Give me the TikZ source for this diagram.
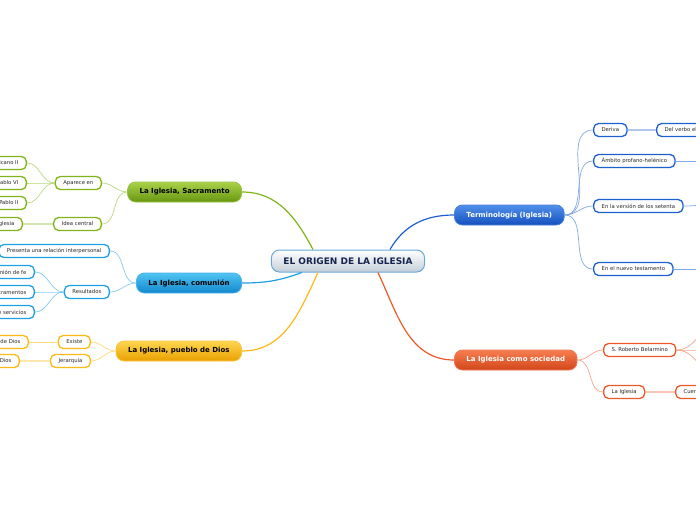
\documentclass[tikz,border=0pt]{standalone}
\usepackage{fontspec}
\setmainfont{DejaVu Sans}
\usetikzlibrary{positioning}
\definecolor{rootline}{RGB}{106,168,220}
\definecolor{rootlow}{RGB}{196,206,216}
\definecolor{rootink}{RGB}{22,36,80}
\definecolor{greenmain}{RGB}{128,180,24}
\definecolor{greentop}{RGB}{170,210,74}
\definecolor{greenlow}{RGB}{104,150,16}
\definecolor{cyanmain}{RGB}{30,160,230}
\definecolor{cyantop}{RGB}{80,196,242}
\definecolor{cyanlow}{RGB}{18,136,204}
\definecolor{goldmain}{RGB}{255,184,20}
\definecolor{goldtop}{RGB}{255,214,80}
\definecolor{goldlow}{RGB}{232,160,0}
\definecolor{navymain}{RGB}{30,96,210}
\definecolor{navytop}{RGB}{80,144,234}
\definecolor{navylow}{RGB}{20,80,190}
\definecolor{rustmain}{RGB}{236,88,40}
\definecolor{rusttop}{RGB}{246,126,80}
\definecolor{rustlow}{RGB}{210,70,26}
\definecolor{textgray}{RGB}{40,40,40}

\begin{document}
\begin{tikzpicture}[
    x=1pt, y=-1pt,
    font=\fontsize{5.3}{6}\selectfont,
    root/.style={
      rectangle,
      rounded corners=8pt,
      draw=rootline,
      line width=1pt,
      top color=white,
      bottom color=rootlow,
      text=rootink,
      minimum height=22pt,
      inner xsep=12pt,
      font=\bfseries\fontsize{9}{10}\selectfont
    },
    topic/.style={
      rectangle,
      rounded corners=8pt,
      line width=0.8pt,
      minimum height=20pt,
      inner xsep=12pt,
      font=\bfseries\fontsize{7}{8}\selectfont
    },
    sacra/.style={topic, draw=greenmain!80, top color=greentop, bottom color=greenlow, text=black},
    comun/.style={topic, draw=cyanmain!80, top color=cyantop, bottom color=cyanlow, text=black},
    pueblo/.style={topic, draw=goldmain!80, top color=goldtop, bottom color=goldlow, text=black},
    termino/.style={topic, draw=navymain!80, top color=navytop, bottom color=navylow, text=white},
    socied/.style={topic, draw=rustmain!80, top color=rusttop, bottom color=rustlow, text=white},
    sub/.style={
      rectangle,
      rounded corners=5pt,
      fill=white,
      line width=1.3pt,
      minimum height=13pt,
      inner xsep=8pt,
      inner ysep=0pt,
      text=textgray
    },
    gsub/.style={sub, draw=greenmain},
    csub/.style={sub, draw=cyanmain},
    osub/.style={sub, draw=goldmain},
    nsub/.style={sub, draw=navymain},
    rsub/.style={sub, draw=rustmain},
    link/.style={line width=1.2pt},
    twig/.style={line width=0.7pt},
    bond/.style={line width=1.8pt}
]
\useasboundingbox (0,0) rectangle (696,520);
\clip (0,0) rectangle (696,520);

% centre and main topics
\node[root] (root) at (348,261) {EL ORIGEN DE LA IGLESIA};
\node[sacra, anchor=east] (sac) at (242,192) {La Iglesia, Sacramento};
\node[comun, anchor=east] (com) at (242,283) {La Iglesia, comunión};
\node[pueblo, anchor=east] (pue) at (242,351) {La Iglesia, pueblo de Dios};
\node[termino, anchor=west] (ter) at (454,215) {Terminología (Iglesia)};
\node[socied, anchor=west] (soc) at (454,360) {La Iglesia como sociedad};

% Sacramento
\node[gsub, anchor=east] (apa) at (102,183) {Aparece en};
\node[gsub, anchor=east] (ide) at (102,224) {Idea central};
\node[gsub, anchor=east] (vat) at (27,163) {Concilio Vaticano II};
\node[gsub, anchor=east] (pab) at (27,183) {Papa Pablo VI};
\node[gsub, anchor=east] (jpa) at (27,203) {Juan Pablo II};
\node[gsub, anchor=east] (mis) at (23,224) {La Iglesia};

% comunion
\node[csub, anchor=east] (pre) at (110,251) {Presenta una relación interpersonal};
\node[csub, anchor=east] (res) at (110,292) {Resultados};
\node[csub, anchor=east] (fe) at (35,272) {Comunión de fe};
\node[csub, anchor=east] (sacr) at (35,292) {Comunión de sacramentos};
\node[csub, anchor=east] (serv) at (35,312) {Comunión de servicios};

% pueblo de Dios
\node[osub, anchor=east] (exi) at (91,342) {Existe};
\node[osub, anchor=east] (jer) at (91,361) {Jerarquía};
\node[osub, anchor=east] (pdd) at (29,342) {Un pueblo de Dios};
\node[osub, anchor=east] (dio) at (20,361) {Pueblo de Dios};

% terminologia
\node[nsub, anchor=west] (der) at (593,130) {Deriva};
\node[nsub, anchor=west] (vrb) at (656,130) {Del verbo ekkaleo};
\node[nsub, anchor=west] (amb) at (593,161) {Ámbito profano-helénico};
\node[nsub, anchor=west] (ver) at (593,206) {En la versión de los setenta};
\node[nsub, anchor=west] (nue) at (593,269) {En el nuevo testamento};
\coordinate (amb-r) at (720,161);
\coordinate (ver-r) at (720,204);
\coordinate (nue-r) at (720,269);

% sociedad
\node[rsub, anchor=west] (rob) at (603,350) {S. Roberto Belarmino};
\node[rsub, anchor=west] (igl) at (603,392) {La Iglesia};
\node[rsub, anchor=west] (cue) at (675,392) {Cuerpo de Cristo};
\coordinate (rob-a) at (722,322);
\coordinate (rob-b) at (722,350);
\coordinate (rob-c) at (722,378);

% main branches
\draw[link, greenmain] (sac.east) to[out=0,in=118] ([xshift=-35pt]root.north);
\draw[link, cyanmain] (com.east) to[out=0,in=200] ([xshift=31pt]root.south west);
\draw[link, goldmain] (pue.east) to[out=0,in=-115] ([xshift=-30pt]root.south);
\draw[link, navymain] ([xshift=42pt]root.north) to[out=60,in=180] (ter.west);
\draw[link, rustmain] ([xshift=30pt]root.south) to[out=-65,in=180] (soc.west);

% twigs, left side
\draw[twig, greenmain!55] (sac.west) to[out=180,in=0] (apa.east);
\draw[twig, greenmain!55] (sac.west) to[out=180,in=0] (ide.east);
\foreach \leaf in {vat,pab,jpa}
  \draw[twig, greenmain!55] (apa.west) to[out=180,in=0] (\leaf.east);
\draw[bond, greenmain!35] (ide.west) -- (mis.east);

\draw[twig, cyanmain!55] (com.west) to[out=180,in=0] (pre.east);
\draw[twig, cyanmain!55] (com.west) to[out=180,in=0] (res.east);
\foreach \leaf in {fe,sacr,serv}
  \draw[twig, cyanmain!55] (res.west) to[out=180,in=0] (\leaf.east);

\draw[twig, goldmain!55] (pue.west) to[out=180,in=0] (exi.east);
\draw[twig, goldmain!55] (pue.west) to[out=180,in=0] (jer.east);
\draw[twig, goldmain!55] (exi.west) -- (pdd.east);
\draw[bond, goldmain!35] (jer.west) -- (dio.east);

% twigs, right side
\foreach \leaf in {der,amb,ver,nue}
  \draw[twig, navymain!55] (ter.east) to[out=0,in=180] (\leaf.west);
\draw[bond, navymain!35] (der.east) -- (vrb.west);
\draw[twig, navymain!55] (amb.east) -- (amb-r);
\draw[twig, navymain!55] (ver.east) to[out=0,in=180] (ver-r);
\draw[twig, navymain!55] (nue.east) -- (nue-r);

\draw[twig, rustmain!55] (soc.east) to[out=0,in=180] (rob.west);
\draw[twig, rustmain!55] (soc.east) to[out=0,in=180] (igl.west);
\foreach \tip in {rob-a,rob-b,rob-c}
  \draw[twig, rustmain!55] (rob.east) to[out=0,in=180] (\tip);
\draw[bond, rustmain!35] (igl.east) -- (cue.west);
\end{tikzpicture}
\end{document}
